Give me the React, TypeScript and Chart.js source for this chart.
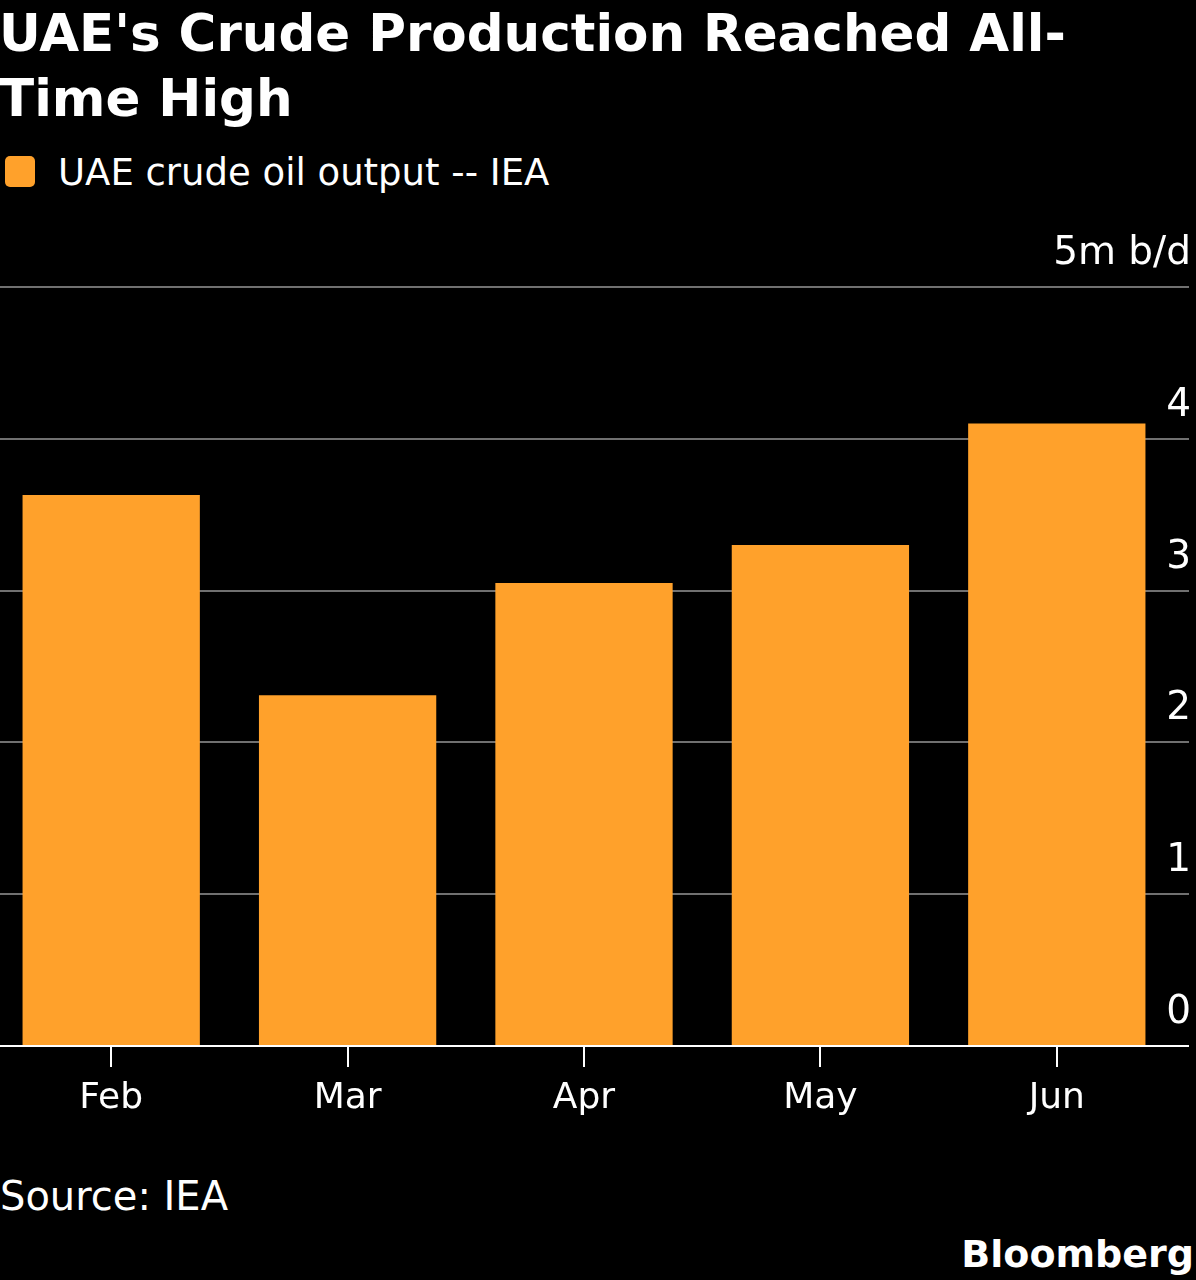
import React, { useEffect, useRef } from "react";
import { Chart, registerables } from "chart.js";

Chart.register(...registerables);

const categories: string[] = ["Feb", "Mar", "Apr", "May", "Jun"];
const outputValues: number[] = [3.63, 2.31, 3.05, 3.3, 4.1];
const yTickValues: number[] = [0, 1, 2, 3, 4, 5];
const unitLabel = "5m b/d";
const seriesName = "UAE crude oil output -- IEA";
const titleLines: string[] = ["UAE's Crude Production Reached All-", "Time High"];
const sourceText = "Source: IEA";

const ORANGE = "#FFA12B";
const GRID = "#707070";
const FONT = "'DejaVu Sans', sans-serif";

const CANVAS_W = 1204;
const CANVAS_H = 926;

const yLabelPlugin = {
  id: "yLabelsAbove",
  afterDraw(chart: any) {
    const ctx = chart.ctx;
    const scale = chart.scales.y;
    ctx.save();
    ctx.fillStyle = "#ffffff";
    ctx.font = `39px ${FONT}`;
    ctx.textAlign = "right";
    ctx.textBaseline = "alphabetic";
    for (const v of yTickValues) {
      const py = scale.getPixelForValue(v);
      const text = v === yTickValues[yTickValues.length - 1] ? unitLabel : String(v);
      ctx.fillText(text, chart.width - 5, py - 23);
    }
    ctx.restore();
  },
};

export default function App() {
  const canvasRef = useRef<HTMLCanvasElement | null>(null);

  useEffect(() => {
    if (!canvasRef.current) return;
    const chart = new Chart(canvasRef.current, {
      type: "bar",
      data: {
        labels: categories,
        datasets: [
          {
            label: seriesName,
            data: outputValues,
            backgroundColor: ORANGE,
            borderWidth: 0,
            categoryPercentage: 1,
            barPercentage: 0.75,
          },
        ],
      },
      options: {
        responsive: false,
        animation: false,
        devicePixelRatio: 1,
        layout: { padding: { top: 87, left: 1, right: 0, bottom: 0 } },
        plugins: {
          legend: { display: false },
          title: { display: false },
          tooltip: { enabled: false },
        },
        scales: {
          x: {
            type: "category",
            offset: true,
            grid: {
              display: true,
              offset: false,
              drawOnChartArea: false,
              drawTicks: true,
              tickLength: 21,
              color: "#ffffff",
              lineWidth: 2,
            },
            border: { display: true, color: "#ffffff", width: 2 },
            ticks: {
              color: "#ffffff",
              font: { family: FONT, size: 36 },
              padding: 10,
              maxRotation: 0,
              autoSkip: false,
            },
            afterFit: (s: any) => {
              s.height = 80;
            },
          },
          y: {
            position: "right",
            min: 0,
            max: 5,
            ticks: { stepSize: 1, display: false },
            grid: {
              color: (c: any) => (c.tick && c.tick.value === 0 ? "#ffffff" : GRID),
              lineWidth: 2,
              drawTicks: true,
              tickLength: 14,
            },
            border: { display: false },
            afterFit: (s: any) => {
              s.width = 21;
            },
          },
        },
      },
      plugins: [yLabelPlugin],
    });
    return () => chart.destroy();
  }, []);

  return (
    <div
      style={{
        position: "fixed",
        left: 0,
        top: 0,
        width: 1196,
        height: 1280,
        background: "#000",
        overflow: "hidden",
        fontFamily: FONT,
        color: "#fff",
      }}
    >
      <div
        style={{
          position: "absolute",
          left: -1,
          top: 1,
          fontWeight: "bold",
          fontSize: 51.5,
          lineHeight: "65px",
          whiteSpace: "nowrap",
        }}
      >
        {titleLines.map((t, i) => (
          <div key={i}>{t}</div>
        ))}
      </div>
      <div
        style={{
          position: "absolute",
          left: 5,
          top: 156,
          width: 30,
          height: 31,
          borderRadius: 5,
          background: ORANGE,
        }}
      />
      <div
        style={{
          position: "absolute",
          left: 58,
          top: 154,
          fontSize: 37,
          lineHeight: 1,
          whiteSpace: "nowrap",
        }}
      >
        {seriesName}
      </div>
      <canvas
        ref={canvasRef}
        width={CANVAS_W}
        height={CANVAS_H}
        style={{
          position: "absolute",
          left: -8,
          top: 200,
          width: CANVAS_W,
          height: CANVAS_H,
          display: "block",
        }}
      />
      <div
        style={{
          position: "absolute",
          left: 0,
          top: 1176,
          fontSize: 40,
          lineHeight: 1,
          whiteSpace: "nowrap",
        }}
      >
        {sourceText}
      </div>
      <div
        style={{
          position: "absolute",
          right: 2,
          top: 1235,
          fontSize: 38,
          fontWeight: "bold",
          lineHeight: 1,
          whiteSpace: "nowrap",
        }}
      >
        Bloomberg
      </div>
    </div>
  );
}
